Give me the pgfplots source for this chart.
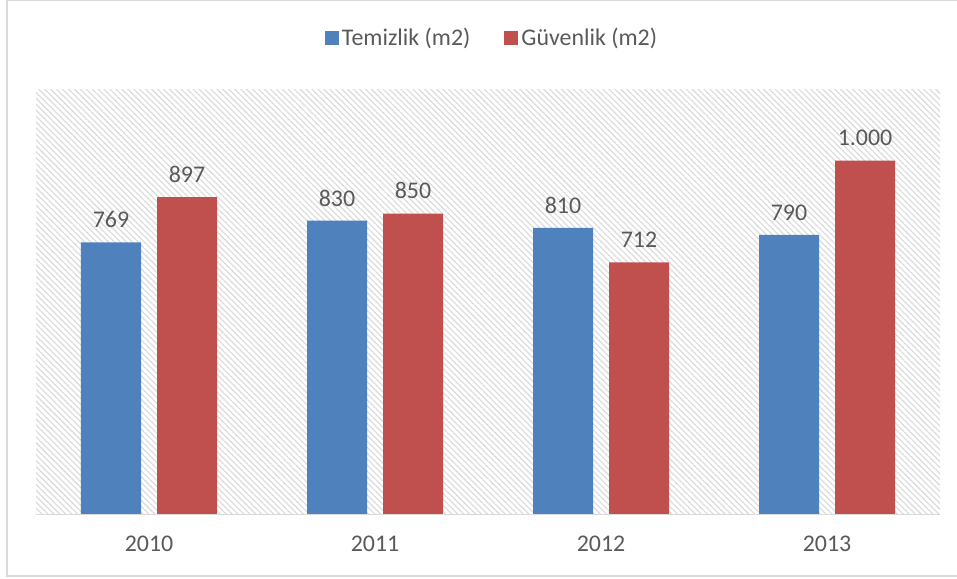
\documentclass[border=0pt]{standalone}
\usepackage{pgfplots}
\pgfplotsset{compat=1.18}
\usepackage{fontspec}
\setmainfont{Carlito}
\usetikzlibrary{patterns.meta}
\definecolor{cblue}{HTML}{4F81BD}
\definecolor{cred}{HTML}{C0504D}
\definecolor{ctext}{HTML}{595959}
\definecolor{cgrid}{HTML}{D9D9D9}
\begin{document}
\begin{tikzpicture}
\useasboundingbox (-36bp,-65bp) rectangle (921bp,514bp);
\draw[cgrid, line width=1.5bp] (-29bp,-62bp) rectangle (930bp,513.5bp);
\begin{axis}[
  at={(0,0)}, anchor=south west,
  scale only axis, width=904bp, height=424bp,
  xmin=-0.5, xmax=3.5, ymin=0, ymax=1200,
  axis y line=none,
  axis x line*=bottom,
  x axis line style={cgrid, line width=1bp},
  axis background/.style={pattern={Lines[angle=-45,distance=4.2bp,line width=1.1bp]}, pattern color=cgrid},
  xtick={0,1,2,3}, xticklabels={2010,2011,2012,2013},
  major tick length=0pt,
  xticklabel style={font=\fontsize{24}{28}\selectfont, text=ctext, yshift=-18bp},
  ybar=16bp, bar width=60bp,
  nodes near coords,
  every node near coord/.append style={font=\fontsize{24}{28}\selectfont, text=ctext, yshift=11bp},
  /pgf/number format/.cd, 1000 sep={.}, assume math mode=true, /pgfplots/.cd,
  legend columns=2,
  legend style={at={(0.505,1.123)}, anchor=center, draw=none, fill=none,
    font=\fontsize{24}{28}\selectfont, text=ctext,
    /tikz/every even column/.append style={column sep=31bp},
    nodes={inner sep=2bp, inner xsep=3bp}},
  legend image code/.code={\path[#1,draw=none] (-4bp,-7bp) rectangle (10bp,7bp);},
]
\addplot[fill=cblue, draw=none] coordinates {(0,769) (1,830) (2,810) (3,790)};
\addplot[fill=cred, draw=none] coordinates {(0,897) (1,850) (2,712) (3,1000)};
\legend{Temizlik (m2), Güvenlik (m2)}
\end{axis}
\end{tikzpicture}
\end{document}
